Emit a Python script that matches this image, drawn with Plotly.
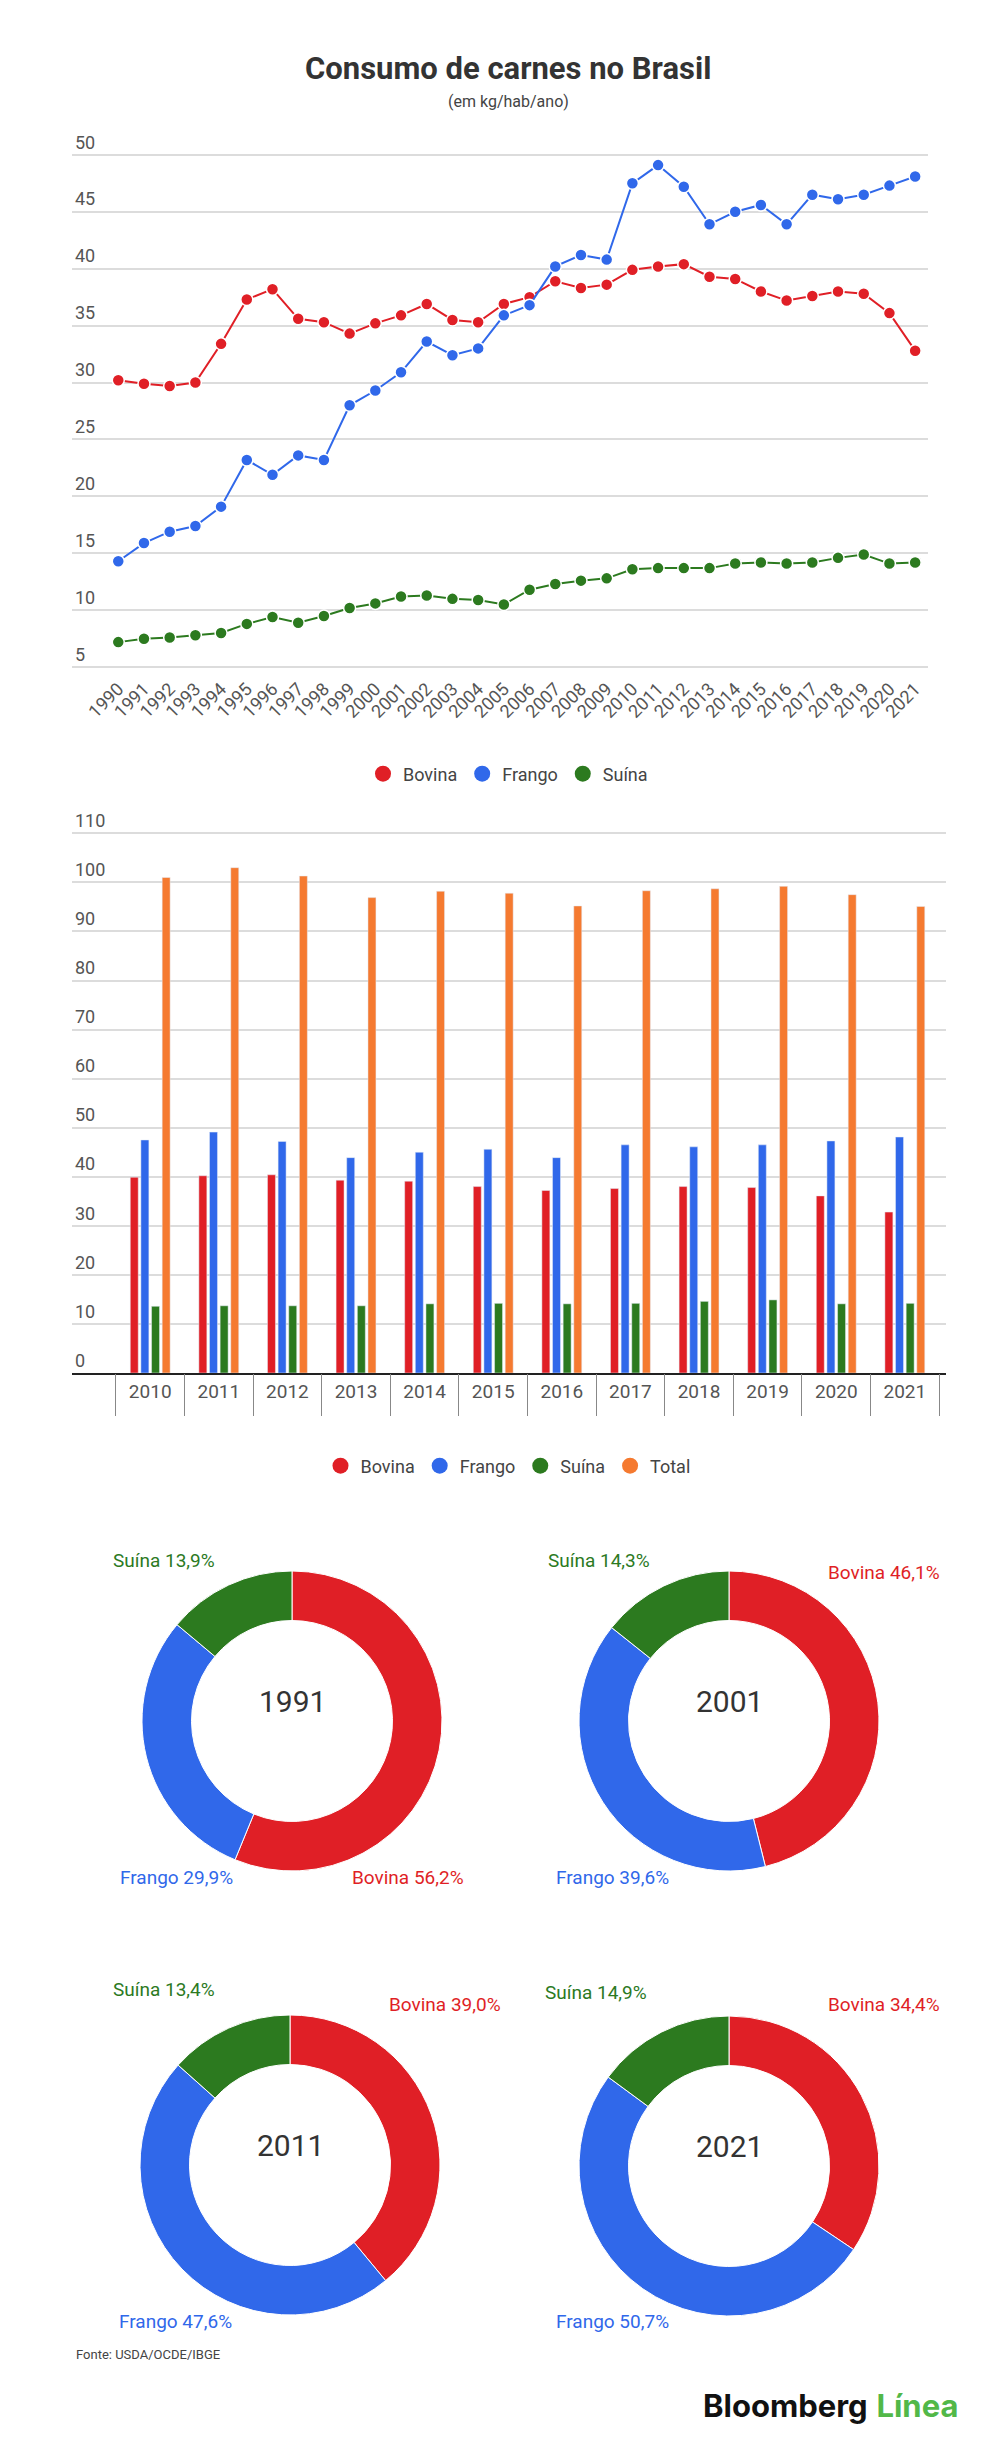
import plotly.graph_objects as go

years = list(range(1990, 2022))
bovina = [30.2, 29.9, 29.7, 30.0, 33.4, 37.3, 38.2, 35.6, 35.3, 34.3, 35.2, 35.9, 36.9, 35.5, 35.3, 36.9,
          37.5, 38.9, 38.3, 38.6, 39.9, 40.2, 40.4, 39.3, 39.1, 38.0, 37.2, 37.6, 38.0, 37.8, 36.1, 32.8]
frango = [14.3, 15.9, 16.9, 17.4, 19.1, 23.2, 21.9, 23.6, 23.2, 28.0, 29.3, 30.9, 33.6, 32.4, 33.0, 35.9,
          36.8, 40.2, 41.2, 40.8, 47.5, 49.1, 47.2, 43.9, 45.0, 45.6, 43.9, 46.5, 46.1, 46.5, 47.3, 48.1]
suina = [7.2, 7.5, 7.6, 7.8, 8.0, 8.8, 9.4, 8.9, 9.5, 10.2, 10.6, 11.2, 11.3, 11.0, 10.9, 10.5,
         11.8, 12.3, 12.6, 12.8, 13.6, 13.7, 13.7, 13.7, 14.1, 14.2, 14.1, 14.2, 14.6, 14.9, 14.1, 14.2]

bar_years = [str(y) for y in range(2010, 2022)]
bar_bovina = bovina[20:]
bar_frango = frango[20:]
bar_suina = suina[20:]
bar_total = [101.0, 103.0, 101.3, 96.9, 98.2, 97.8, 95.2, 98.3, 98.7, 99.2, 97.5, 95.1]

donut_years = ["1991", "2001", "2011", "2021"]
donut_labels = ["Bovina", "Frango", "Suína"]
donut_shares = [[56.2, 29.9, 13.9], [46.1, 39.6, 14.3], [39.0, 47.6, 13.4], [34.4, 50.7, 14.9]]

RED, BLUE, GREEN, ORANGE = "#e01f26", "#3068ea", "#2c7a1f", "#f57a30"
FONT = "Roboto"
H, W = 2461, 1000
def py(p): return 1 - p / H
def px(p): return p / W

fig = go.Figure()

for name, vals, col in [("Bovina", bovina, RED), ("Frango", frango, BLUE), ("Suína", suina, GREEN)]:
    fig.add_trace(go.Scatter(x=years, y=vals, mode="lines+markers", name=name, showlegend=False,
                             line=dict(color=col, width=2),
                             marker=dict(size=12, color=col, line=dict(color="white", width=1.5)),
                             xaxis="x", yaxis="y", cliponaxis=False))
    fig.add_trace(go.Scatter(x=[None], y=[None], mode="markers", name=name, legend="legend",
                             marker=dict(size=18, color=col), xaxis="x", yaxis="y"))

for name, vals, col in [("Bovina", bar_bovina, RED), ("Frango", bar_frango, BLUE),
                        ("Suína", bar_suina, GREEN), ("Total", bar_total, ORANGE)]:
    fig.add_trace(go.Bar(x=bar_years, y=vals, name=name, marker_color=col, showlegend=False,
                         xaxis="x2", yaxis="y2"))
    fig.add_trace(go.Scatter(x=[None], y=[None], mode="markers", name=name, legend="legend2",
                             marker=dict(size=18, color=col), xaxis="x2", yaxis="y2"))
fig.add_trace(go.Scatter(x=[0], y=[0], mode="markers", marker=dict(opacity=0), showlegend=False,
                         hoverinfo="skip", xaxis="x3", yaxis="y2"))

centers = [(284, 1713), (721, 1713), (282, 2157), (721, 2158)]
R = 150
for yr, shares, (cx, cy) in zip(donut_years, donut_shares, centers):
    fig.add_trace(go.Pie(labels=donut_labels, values=shares, hole=0.67, sort=False, direction="clockwise",
                         marker=dict(colors=[RED, BLUE, GREEN], line=dict(color="white", width=1)),
                         textinfo="none", hoverinfo="label+percent", showlegend=False,
                         domain=dict(x=[px(cx - R), px(cx + R)], y=[py(cy + R), py(cy - R)])))

tickfont = dict(family=FONT, size=18, color="#555")
layout = dict(
    width=W, height=H, margin=dict(l=0, r=0, t=0, b=0),
    paper_bgcolor="white", plot_bgcolor="white", font=dict(family=FONT),
    barmode="group", bargap=0.38, bargroupgap=0.25,
    xaxis=dict(domain=[px(64), px(920)], range=[1988.2, 2021.5], tickmode="array", tickvals=years,
               tickangle=-45, tickfont=tickfont, showgrid=False, zeroline=False, anchor="y", ticks=""),
    yaxis=dict(domain=[py(666), py(107)], range=[4.4, 53.5], tickmode="array", tickvals=list(range(5, 51, 5)),
               ticklabelposition="inside top",
               tickfont=tickfont, gridcolor="#dcdcdc", gridwidth=1.5, zeroline=False, anchor="x"),
    xaxis2=dict(domain=[px(64), px(938)], range=[-1.14, 11.6], type="category", tickfont=dict(family=FONT, size=19, color="#555"),
                showgrid=False, ticks="", anchor="y2", showline=True, linecolor="#222", linewidth=2),
    xaxis3=dict(domain=[px(64), px(938)], range=[-1.14, 11.6], overlaying="x2", anchor="y2",
                tickmode="array", tickvals=[i - 0.5 for i in range(13)], showticklabels=False,
                ticks="outside", ticklen=42, tickcolor="#888", tickwidth=1, showgrid=False, zeroline=False),
    yaxis2=dict(domain=[py(1365), py(791)], range=[0, 117], tickmode="array", tickvals=list(range(0, 111, 10)),
                ticklabelposition="inside top",
                tickfont=tickfont, gridcolor="#dcdcdc", gridwidth=1.5, zeroline=False, anchor="x2"),
    legend=dict(orientation="h", x=0.5, xanchor="center", y=py(766), yanchor="middle",
                font=dict(family=FONT, size=18, color="#444")),
    legend2=dict(orientation="h", x=0.5, xanchor="center", y=py(1458), yanchor="middle",
                 font=dict(family=FONT, size=18, color="#444")),
)
fig.update_layout(**layout)

ann = [
    dict(text="<b>Consumo de carnes no Brasil</b>", x=0.5, y=py(40), font=dict(size=31, color="#333")),
    dict(text="(em kg/hab/ano)", x=0.5, y=py(82), font=dict(size=16, color="#444")),
    dict(text="Fonte: USDA/OCDE/IBGE", x=px(66), y=py(2356), xanchor="left", font=dict(size=13, color="#444")),
    dict(text="<b>Bloomberg</b> <b><span style='color:#52b848'>Línea</span></b>", x=px(952), y=py(2418),
         xanchor="right", font=dict(size=31, color="#111", family="Inter")),
]
for yr, (cx, cy) in zip(donut_years, centers):
    ann.append(dict(text=yr, x=px(cx), y=py(cy), font=dict(size=30, color="#333")))

lab_pos = [
    [(400, 1883), (168, 1883), (156, 1552)],
    [(876, 1565), (604, 1883), (591, 1552)],
    [(437, 2010), (167, 2327), (156, 1995)],
    [(876, 2010), (604, 2327), (588, 1998)],
]
cols = [RED, BLUE, GREEN]
for shares, poss in zip(donut_shares, lab_pos):
    for lab, v, (x, y), c in zip(donut_labels, shares, poss, cols):
        ann.append(dict(text=f"{lab} {v:.1f}%".replace(".", ","), x=px(x), y=py(y),
                        font=dict(size=19, color=c)))
for a in ann:
    a.update(xref="paper", yref="paper", showarrow=False)
    a.setdefault("xanchor", "center")
    a["font"].setdefault("family", FONT)
fig.update_layout(annotations=ann)

fig.write_html("out.html")
